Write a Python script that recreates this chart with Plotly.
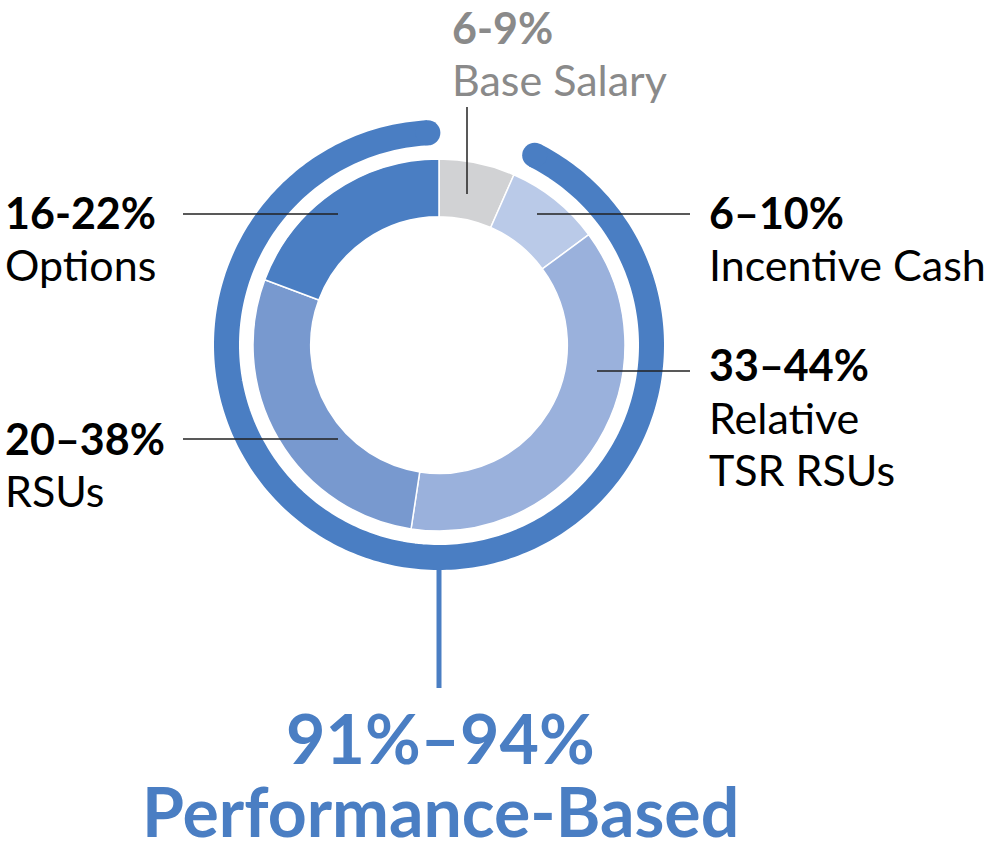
import numpy as np
import plotly.graph_objects as go

# Slice data (clockwise from 12 o'clock)
components = ['Base Salary', 'Incentive Cash', 'Relative TSR RSUs', 'RSUs', 'Options']
shares = [6.6, 8.3, 37.5, 28.3, 19.3]
colors = ['#D1D2D4', '#BACAE8', '#9AB1DC', '#7899CF', '#4A7EC3']

# Label texts
ranges = ['6-9%', '6–10%', '33–44%', '20–38%', '16-22%']
names = [['Base Salary'], ['Incentive Cash'], ['Relative', 'TSR RSUs'], ['RSUs'], ['Options']]
perf_range = '91%–94%'
perf_label = 'Performance-Based'

BLUE = '#4A7EC3'
GRAY = '#8A8A8A'
W, H = 1000, 854

fig = go.Figure()

# Donut
fig.add_trace(go.Pie(
    labels=components, values=shares, sort=False, direction='clockwise', rotation=0,
    hole=0.69, marker=dict(colors=colors, line=dict(color='white', width=1.5)),
    textinfo='none', hoverinfo='label+percent', showlegend=False,
    domain=dict(x=[253 / W, 625 / W], y=[(H - 531) / H, (H - 159) / H]),
))

# Outer performance-based arc: everything except base salary
gap = 3.0
start = shares[0] / sum(shares) * 360 + gap
end = 360 - gap
theta = np.linspace(start, end, 300)
r_ring = 212.5 / 240
fig.add_trace(go.Scatterpolar(
    r=np.full(theta.size, r_ring), theta=theta, mode='lines',
    line=dict(color=BLUE, width=25), hoverinfo='skip', showlegend=False,
))
fig.add_trace(go.Scatterpolar(
    r=[r_ring, r_ring], theta=[start, end], mode='markers',
    marker=dict(color=BLUE, size=25, line=dict(width=0)), hoverinfo='skip', showlegend=False,
))

fig.update_layout(
    width=W, height=H,
    margin=dict(l=0, r=0, t=0, b=0),
    paper_bgcolor='white', plot_bgcolor='white',
    polar=dict(
        domain=dict(x=[199 / W, 679 / W], y=[(H - 585) / H, (H - 105) / H]),
        bgcolor='rgba(0,0,0,0)',
        radialaxis=dict(visible=False, range=[0, 1]),
        angularaxis=dict(visible=False, direction='clockwise', rotation=90, showline=False, showgrid=False),
    ),
    font=dict(family='Lato, sans-serif'),
)

# Leader lines (positions in px from top-left)
def px_line(x0, y0, x1, y1, color='#222222', width=1.5):
    fig.add_shape(type='line', xref='paper', yref='paper',
                  x0=x0 / W, x1=x1 / W, y0=1 - y0 / H, y1=1 - y1 / H,
                  line=dict(color=color, width=width))

px_line(467, 107, 467, 194)   # Base Salary
px_line(537, 214, 690, 214)   # Incentive Cash
px_line(597, 371, 690, 371)   # Relative TSR RSUs
px_line(183, 439, 338, 439)   # RSUs
px_line(183, 214, 338, 214)   # Options
px_line(439, 568, 439, 688, color=BLUE, width=5)  # performance stem

def label(x, y, text, color='black', size=43, xanchor='left'):
    fig.add_annotation(x=x / W, y=1 - y / H, xref='paper', yref='paper', text=text,
                       showarrow=False, xanchor=xanchor, yanchor='middle', align='left',
                       font=dict(size=size, color=color, family='Lato, sans-serif'))

def block(x, y, rng, lines, color='black'):
    label(x, y, '<b>' + rng + '</b>', color)
    for i, t in enumerate(lines):
        label(x, y + 52 * (i + 1), t, color)

block(450, 27, ranges[0], names[0], GRAY)
block(707, 212, ranges[1], names[1])
block(707, 365, ranges[2], names[2])
block(3, 438, ranges[3], names[3])
block(3, 212, ranges[4], names[4])

label(440, 737, '<b>' + perf_range + '</b>', BLUE, size=68, xanchor='center')
label(440, 810, '<b>' + perf_label + '</b>', BLUE, size=68, xanchor='center')

fig.write_html('out.html', config={'displayModeBar': False},
               post_script="document.body.style.margin='0';")
